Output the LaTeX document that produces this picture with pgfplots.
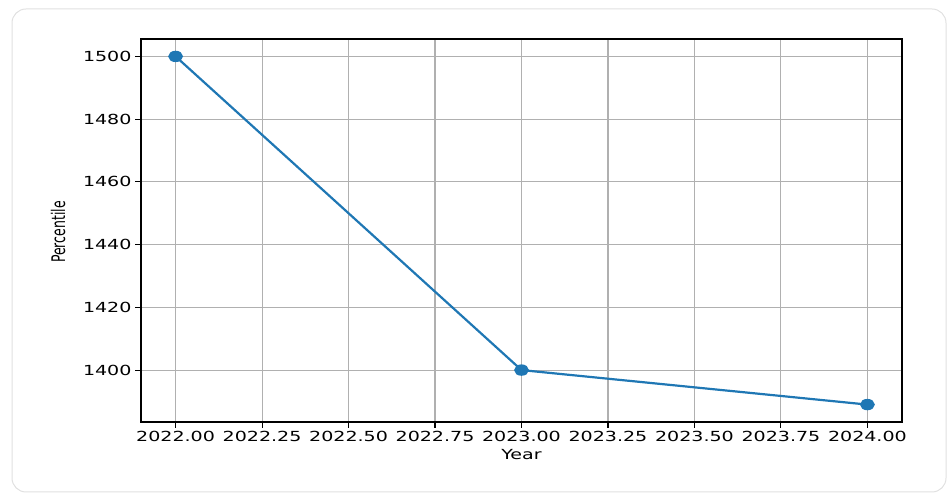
\documentclass[border=0pt]{standalone}
\usepackage{fontspec}
\setmainfont{DejaVu Sans}
\newfontfamily\wide{DejaVu Sans}[FakeStretch=1.37]
\usepackage{pgfplots}
\pgfplotsset{compat=1.18}
\definecolor{mplblue}{RGB}{31,119,180}
\definecolor{gridgray}{RGB}{176,176,176}
\definecolor{cardgray}{RGB}{224,224,224}
\begin{document}
\begin{tikzpicture}
\useasboundingbox (0,0) rectangle (950pt,497pt);
\draw[color=cardgray, line width=1pt, rounded corners=14pt] (12pt,5pt) rectangle (946pt,488pt);
\begin{axis}[
  at={(141pt,75pt)}, anchor=south west,
  scale only axis, width=761pt, height=383pt,
  xmin=2021.9, xmax=2024.1, ymin=1383.45, ymax=1505.55,
  xtick={2022,2022.25,2022.5,2022.75,2023,2023.25,2023.5,2023.75,2024},
  ytick={1400,1420,1440,1460,1480,1500},
  grid=major,
  grid style={color=gridgray, line width=1.1pt},
  axis line style={line width=1.1pt},
  tick style={black, line width=1.1pt},
  tick align=outside,
  major tick length=6pt,
  xtick pos=bottom, ytick pos=left,
  /pgf/number format/assume math mode=true,
  ticklabel style={font=\wide\fontsize{13.9}{16}\selectfont},
  xticklabel style={/pgf/number format/.cd, 1000 sep={}, fixed, fixed zerofill, precision=2},
  yticklabel style={/pgf/number format/.cd, 1000 sep={}, fixed, precision=0},
  xlabel={Year},
  ylabel={\scalebox{0.9}[1.35]{Percentile}},
  label style={font=\fontsize{13.9}{16}\selectfont},
  xlabel style={font=\wide\fontsize{13.9}{16}\selectfont},
  ylabel style={at={(axis description cs:-0.109,0.496)}, anchor=center},
]
\addplot[color=mplblue, line width=2.2pt, mark=*, mark size=4.6pt,
  mark options={xscale=1.35, fill=mplblue, draw=mplblue}]
  coordinates {(2022,1500) (2023,1400) (2024,1389)};
\end{axis}
\end{tikzpicture}
\end{document}
